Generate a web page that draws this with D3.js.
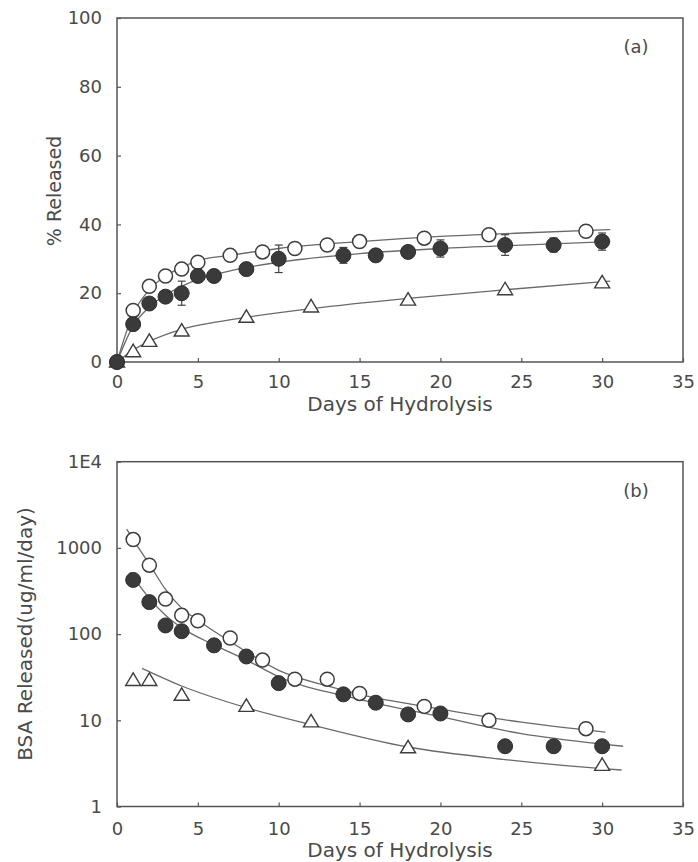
<!DOCTYPE html>
<html>
<head>
<meta charset="utf-8">
<script src="https://cdn.jsdelivr.net/npm/d3@7"></script>
<style>
  body { margin: 0; background: #fff; }
  text { font-family: "DejaVu Sans", sans-serif; fill: #4a4a4a; }
</style>
</head>
<body>
<div id="chart"></div>
<script>
// ---- panel (a): % released ----
const openA_x   = [0, 1, 2, 3, 4, 5, 7, 9, 11, 13, 15, 19, 23, 29];
const openA_y   = [0, 15, 22, 25, 27, 29, 31, 32, 33, 34, 35, 36, 37, 38];
const filledA_x = [0, 1, 2, 3, 4, 5, 6, 8, 10, 14, 16, 18, 20, 24, 27, 30];
const filledA_y = [0, 11, 17, 19, 20, 25, 25, 27, 30, 31, 31, 32, 33, 34, 34, 35];
const filledA_e = [0, 0, 0, 0, 3.5, 0, 0, 0, 4, 2.3, 0, 0, 2.5, 3, 2, 2.5];
const triA_x    = [0, 1, 2, 4, 8, 12, 18, 24, 30];
const triA_y    = [0, 3, 6, 9, 13, 16, 18, 21, 23];

// fitted curves
const fitOpenA_x   = [0, 1, 2, 3, 4, 5, 7, 10, 15, 20, 25, 30.5];
const fitOpenA_y   = [0, 14, 21, 25, 27.5, 29.5, 31, 33, 35, 36.5, 37.5, 38.5];
const fitFilledA_x = [0, 1, 2, 3, 4, 5, 7, 10, 15, 20, 25, 30.5];
const fitFilledA_y = [0, 10.5, 16, 19.5, 22, 24, 26.5, 29, 31.5, 33, 34, 35];
const fitTriA_x    = [0, 1, 2, 4, 6, 8, 12, 18, 24, 30.5];
const fitTriA_y    = [0, 3.5, 6, 9.5, 11.5, 13, 15.5, 18.5, 21, 23.5];

// ---- panel (b): BSA released per day ----
const openB_x   = [1, 2, 3, 4, 5, 7, 9, 11, 13, 15, 19, 23, 29];
const openB_y   = [1250, 630, 255, 165, 143, 90, 50, 30, 30, 20.5, 14.5, 10, 8];
const filledB_x = [1, 2, 3, 4, 6, 8, 10, 14, 16, 18, 20, 24, 27, 30];
const filledB_y = [425, 235, 126, 108, 74, 55, 27, 20, 16, 11.7, 12, 5, 5, 5];
const triB_x    = [1, 2, 4, 8, 12, 18, 30];
const triB_y    = [29, 29, 19.5, 14.5, 9.6, 4.8, 3];

const fitOpenB_x   = [0.6, 1, 2, 3, 4, 5, 7, 10, 13, 15, 20, 25, 30.2];
const fitOpenB_y   = [1650, 1250, 650, 330, 200, 145, 82, 38, 25, 20, 13.5, 9.5, 7.3];
const fitFilledB_x = [0.8, 2, 3, 4, 6, 8, 10, 15, 20, 25, 30, 31.3];
const fitFilledB_y = [520, 260, 165, 118, 75, 50, 32, 17.5, 11, 7, 5.3, 5.0];
const fitTriB_x    = [1.55, 4, 8, 12, 18, 24, 30, 31.2];
const fitTriB_y    = [40, 25, 14, 8.9, 4.9, 3.5, 2.75, 2.65];

const xTicks  = [0, 5, 10, 15, 20, 25, 30, 35];
const yTicksA = [0, 20, 40, 60, 80, 100];
const yTicksB = [1, 10, 100, 1000, 10000];
const yTickLabelsB = ["1", "10", "100", "1000", "1E4"];

const zip = (xs, ys, es) => xs.map((x, i) => ({ x, y: ys[i], e: es ? es[i] : 0 }));

const width = 698, height = 862;

const svg = d3.select("#chart")
  .append("svg")
    .attr("width", width)
    .attr("height", height);

svg.append("rect")
  .attr("width", width)
  .attr("height", height)
  .attr("fill", "#fff");

const triPath = "M0,-7.5L7.5,5L-7.5,5Z";

function drawPanel(cfg) {
  const x = d3.scaleLinear().domain([0, 35]).range([117, 683]);
  const y = cfg.y;
  const g = svg.append("g");

  // frame
  g.append("rect")
    .attr("x", x(0))
    .attr("y", y.range()[1])
    .attr("width", x(35) - x(0))
    .attr("height", y.range()[0] - y.range()[1])
    .attr("fill", "none")
    .attr("stroke", "#555")
    .attr("stroke-width", 1.5);

  const xAxis = d3.axisBottom(x)
    .tickValues(xTicks)
    .tickSize(-4)
    .tickPadding(cfg.xPad)
    .tickFormat(d3.format("d"));

  const yAxis = d3.axisLeft(y)
    .tickValues(cfg.yTicks)
    .tickSize(-4)
    .tickPadding(15)
    .tickFormat(cfg.yFormat);

  const gx = g.append("g")
    .attr("transform", `translate(0,${y.range()[0]})`)
    .call(xAxis);
  const gy = g.append("g")
    .attr("transform", `translate(${x(0)},0)`)
    .call(yAxis);

  [gx, gy].forEach(a => {
    a.select(".domain").remove();
    a.selectAll("line").attr("stroke", "#555").attr("stroke-width", 1.2);
    a.selectAll("text")
      .attr("font-family", "DejaVu Sans, sans-serif")
      .attr("font-size", 18)
      .attr("fill", "#4a4a4a");
  });

  g.append("text")
    .attr("x", 400)
    .attr("y", cfg.xLabelY)
    .attr("text-anchor", "middle")
    .attr("font-size", 20)
    .text("Days of Hydrolysis");

  g.append("text")
    .attr("transform", `translate(${cfg.yLabelX},${cfg.yLabelMid}) rotate(-90)`)
    .attr("text-anchor", "middle")
    .attr("font-size", cfg.yLabelSize)
    .text(cfg.yLabel);

  g.append("text")
    .attr("x", 636)
    .attr("y", y.range()[1] + 35)
    .attr("text-anchor", "middle")
    .attr("font-size", 18)
    .text(cfg.tag);

  // fitted lines
  const line = d3.line()
    .x(d => x(d.x))
    .y(d => y(d.y))
    .curve(d3.curveMonotoneX);

  cfg.fits.forEach(f => {
    g.append("path")
      .datum(f)
      .attr("d", line)
      .attr("fill", "none")
      .attr("stroke", "#6a6a6a")
      .attr("stroke-width", 1.3);
  });

  // error bars
  const errs = cfg.filled.filter(d => d.e > 0);
  g.selectAll("line.err")
    .data(errs)
    .join("line")
      .attr("class", "err")
      .attr("x1", d => x(d.x)).attr("x2", d => x(d.x))
      .attr("y1", d => y(d.y - d.e)).attr("y2", d => y(d.y + d.e))
      .attr("stroke", "#444").attr("stroke-width", 1.2);
  g.selectAll("line.cap")
    .data(errs.flatMap(d => [d.y - d.e, d.y + d.e].map(v => ({ x: d.x, v }))))
    .join("line")
      .attr("class", "cap")
      .attr("x1", d => x(d.x) - 4).attr("x2", d => x(d.x) + 4)
      .attr("y1", d => y(d.v)).attr("y2", d => y(d.v))
      .attr("stroke", "#444").attr("stroke-width", 1.2);

  // markers
  g.selectAll("path.tri")
    .data(cfg.tri)
    .join("path")
      .attr("class", "tri")
      .attr("d", triPath)
      .attr("transform", d => `translate(${x(d.x)},${y(d.y)})`)
      .attr("fill", "#fff")
      .attr("stroke", "#3d3d3d")
      .attr("stroke-width", 1.4);

  g.selectAll("circle.open")
    .data(cfg.open)
    .join("circle")
      .attr("class", "open")
      .attr("cx", d => x(d.x))
      .attr("cy", d => y(d.y))
      .attr("r", 7)
      .attr("fill", "#fff")
      .attr("stroke", "#3d3d3d")
      .attr("stroke-width", 1.5);

  g.selectAll("circle.filled")
    .data(cfg.filled)
    .join("circle")
      .attr("class", "filled")
      .attr("cx", d => x(d.x))
      .attr("cy", d => y(d.y))
      .attr("r", 7.5)
      .attr("fill", "#3a3a3a")
      .attr("stroke", "#2e2e2e")
      .attr("stroke-width", 1);
}

drawPanel({
  y: d3.scaleLinear().domain([0, 100]).range([362, 18]),
  yTicks: yTicksA,
  yFormat: d3.format("d"),
  xPad: 13,
  xLabelY: 411,
  yLabel: "% Released",
  yLabelX: 61,
  yLabelMid: 191,
  yLabelSize: 19,
  tag: "(a)",
  open: zip(openA_x, openA_y),
  filled: zip(filledA_x, filledA_y, filledA_e),
  tri: zip(triA_x, triA_y),
  fits: [zip(fitOpenA_x, fitOpenA_y), zip(fitFilledA_x, fitFilledA_y), zip(fitTriA_x, fitTriA_y)]
});

drawPanel({
  y: d3.scaleLog().domain([1, 10000]).range([806.5, 461.7]),
  yTicks: yTicksB,
  yFormat: (d, i) => yTickLabelsB[i],
  xPad: 16,
  xLabelY: 857,
  yLabel: "BSA Released(ug/ml/day)",
  yLabelX: 32,
  yLabelMid: 634,
  yLabelSize: 20,
  tag: "(b)",
  open: zip(openB_x, openB_y),
  filled: zip(filledB_x, filledB_y),
  tri: zip(triB_x, triB_y),
  fits: [zip(fitOpenB_x, fitOpenB_y), zip(fitFilledB_x, fitFilledB_y), zip(fitTriB_x, fitTriB_y)]
});
</script>
</body>
</html>
